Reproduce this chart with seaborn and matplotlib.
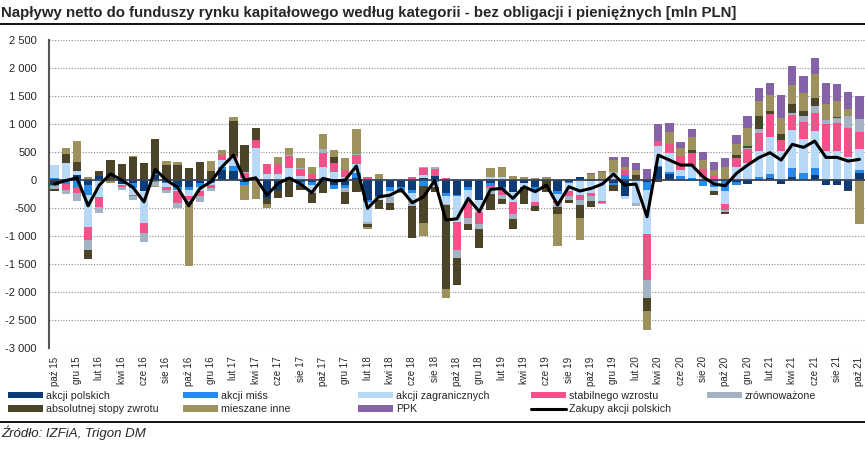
import matplotlib
matplotlib.use("Agg")
import matplotlib.pyplot as plt
import matplotlib.lines as mlines
import numpy as np
import seaborn as sns

sns.set_style("white")
plt.rcParams['font.family'] = ['Liberation Sans', 'DejaVu Sans']

# miesiace paz 2015 - paz 2021
month_abbr = ['sty', 'lut', 'mar', 'kwi', 'maj', 'cze', 'lip', 'sie', 'wrz', 'paź', 'lis', 'gru']
months = []
for k in range(73):
    m = (9 + k) % 12
    y = 15 + (9 + k) // 12
    months.append(f'{month_abbr[m]} {y}')

akcji_polskich = [-80, -20, 90, -90, 70, 0, -70, -60, -200, 90, -30, -130, -130, -60, -30, 180, 170, -40, 0, -315,
                  -170, 20, -30, -40, -30, -90, -80, 30, -360, -280, -130, -130, -180, 40, 70, -230, -270, -130, -360, -60,
                  -130, -210, -50, -130, -20, -190, -30, 50, -20, 0, -50, -290, 0, -30, 230, 110, 20, 10, -20, 0,
                  -20, -30, -70, 10, 40, -70, 60, 0, 90, -95, -90, -170, 120]
akcji_mis = [40, -50, -130, -180, 0, 0, 0, -90, 0, 20, -20, -40, -50, -60, -30, 60, 80, -50, 0, 0,
             0, 30, -60, -50, 40, -70, -60, 100, -40, -40, -70, -50, -60, -110, -40, -60, -20, -50, 0, -40,
             -30, 0, 0, -40, 0, -60, -20, 0, 0, 0, -30, 90, 0, -150, 20, 40, 50, 20, -90, -130,
             -170, -60, 0, 50, 60, 0, 150, 130, 130, 10, 20, 0, 55]
akcji_zagranicznych = [220, 300, 70, -565, -300, 0, -20, -120, -560, 0, -80, -30, -110, -80, -30, 120, 140, 40, 580, 110,
                       100, 170, 80, -80, 200, 150, 60, 150, -340, -40, -100, -20, -120, 50, -80, -130, -450, -210, -210, 50,
                       50, -180, -80, -220, 0, -120, -140, -270, -220, -380, 110, -50, -410, -790, 360, 340, 110, 220, 50, -60,
                       -230, 240, 300, 460, 660, 520, 680, 610, 660, 510, 490, 420, 387]
stabilnego_wzrostu = [-30, -110, -110, -240, -180, 0, -40, -20, -180, -40, -50, -210, -60, -90, -50, 90, 40, 90, 140, 180,
                      190, 210, 110, 110, 250, 160, 120, 170, 50, 0, 0, 0, 50, 120, 120, 30, -510, -280, -210, -50,
                      -110, -210, 0, -80, 0, -40, -100, -90, -40, -30, 0, 90, 0, -820, 90, 160, 250, 230, 140, 70,
                      -110, 150, 250, 315, 420, 195, 270, 290, 310, 475, 500, 510, 300]
zrownowazone = [-50, -70, -140, -180, -110, 0, -40, -60, -160, -60, -60, -90, -20, -100, -50, 0, 0, 20, 0, 0,
                0, 10, 20, -60, 60, 0, -80, 20, -40, 0, -110, 0, -110, 30, 40, -20, -150, -120, -90, -100,
                -60, -90, 0, 0, 0, -80, -60, -90, -90, -20, 40, 0, -45, -315, 0, 0, 0, 0, 0, 0,
                -40, 0, 30, 80, 0, 0, 30, 120, 125, 75, 90, 215, 230]
absolutnej_stopy = [-40, 170, 170, -150, 100, 360, 280, 420, 300, 620, 260, 270, 210, 315, 160, 0, 620, 470, 215, -115,
                    -150, -300, -90, -180, -200, 95, -200, -210, -50, -150, -120, -20, -565, -650, -100, -1500, -480, -110, -340, -280,
                    -100, -190, -300, -80, -190, -110, -60, -230, -107, 0, -120, 0, 90, -240, -40, 0, 0, 60, 0, -80,
                    -30, 60, 20, 220, 60, 107, 165, 85, 150, 0, 20, -20, 0]
mieszane_inne = [0, 110, 370, 50, 0, -60, 0, 10, 0, -30, 80, 60, -1160, 0, 180, 90, 80, -270, -345, -65,
                 130, 140, 190, 120, 270, 130, 220, 440, -40, 100, 0, -20, 0, -230, 0, -160, 0, 0, 0, 170,
                 175, 70, 50, 40, 50, -580, 20, -390, 100, 150, 210, 60, 90, -330, 0, 200, 140, 220, 170, 110,
                 240, 200, 330, 270, 270, 280, 340, 320, 430, 290, 295, 115, -785]
ppk = [0] * 48 + [20, 20, 50, 170, 130, 190, 300, 170, 110, 160, 140, 150,
                  160, 150, 220, 230, 230, 410, 345, 305, 285, 375, 300, 310, 417]
zakupy_akcji_polskich = [-70, -10, 40, -460, -90, 110, 0, -130, -390, 190, 0, -130, -460, -150, -30, 240, 446, 0, 40, -270,
                         -60, 35, -70, -225, 30, -18, 0, 250, -505, -300, -270, -167, -405, -300, -10, -714, -690, -327, -565, -167,
                         -149, -327, -119, -208, -89, -446, -119, -196, -149, -71, 107, -89, -71, -655, 446, 357, 268, 268, 60, -71,
                         -101, 119, 268, 399, 488, 357, 637, 583, 696, 405, 405, 339, 369]

series = [
    ('akcji polskich', akcji_polskich, '#0c3b78'),
    ('akcji miśs', akcji_mis, '#238bec'),
    ('akcji zagranicznych', akcji_zagranicznych, '#b7d8f7'),
    ('stabilnego wzrostu', stabilnego_wzrostu, '#f2518a'),
    ('zrównoważone', zrownowazone, '#a3b3c3'),
    ('absolutnej stopy zwrotu', absolutnej_stopy, '#4b4429'),
    ('mieszane inne', mieszane_inne, '#9d915e'),
    ('PPK', ppk, '#8463a8'),
]

fig = plt.figure(figsize=(8.65, 4.55), dpi=100)
ax = fig.add_axes([49 / 865, 0.235, 816 / 865, 0.912 - 0.235])

x = np.arange(len(months))
pos_bottom = np.zeros(len(months))
neg_bottom = np.zeros(len(months))
handles = {}
for name, vals, col in series:
    v = np.array(vals, dtype=float)
    bottom = np.where(v >= 0, pos_bottom, neg_bottom)
    bars = ax.bar(x, v, bottom=bottom, width=0.74, color=col, linewidth=0, zorder=2)
    handles[name] = bars
    pos_bottom = pos_bottom + np.clip(v, 0, None)
    neg_bottom = neg_bottom + np.clip(v, None, 0)

ax.axhline(0, color='#3c4658', lw=1.3, zorder=2.5)
sns.lineplot(x=x, y=zakupy_akcji_polskich, ax=ax, color='black', lw=2.2, zorder=3, legend=False)
if ax.get_legend() is not None:
    ax.get_legend().remove()

ax.set_ylim(-3000, 2500)
ax.set_xlim(-0.5, len(months) - 0.5)
ax.set_yticks(np.arange(-3000, 2501, 500))
ax.set_yticklabels([f'{v:,}'.replace(',', ' ') for v in range(-3000, 2501, 500)], fontsize=8)
ax.set_xticks(x[::2])
ax.set_xticklabels(months[::2], rotation=90, fontsize=7)
ax.tick_params(axis='both', length=0)
ax.tick_params(axis='y', pad=9)
ax.tick_params(axis='x', pad=6)
ax.yaxis.grid(True, linestyle=(0, (1, 1.5)), color='#8c8c8c', lw=0.8)
ax.set_axisbelow(True)
for s in ['top', 'right', 'bottom']:
    ax.spines[s].set_visible(False)
ax.spines['left'].set_color('#555555')
ax.spines['left'].set_linewidth(1.5)

# legenda: 5 kolumn o stalej szerokosci
line_handle = mlines.Line2D([], [], color='black', lw=2.2)
columns = [
    ['akcji polskich', 'absolutnej stopy zwrotu'],
    ['akcji miśs', 'mieszane inne'],
    ['akcji zagranicznych', 'PPK'],
    ['stabilnego wzrostu', 'Zakupy akcji polskich'],
    ['zrównoważone'],
]
col_x = [8, 183, 358, 531, 707]
for cx, names in zip(col_x, columns):
    hs = [line_handle if n == 'Zakupy akcji polskich' else handles[n] for n in names]
    leg = fig.legend(hs, names, loc='upper left', bbox_to_anchor=(cx / 865, 1 - 391 / 455),
                     frameon=False, fontsize=7.7, handlelength=3.3, handleheight=0.55,
                     handletextpad=0.25, labelspacing=0.3, borderaxespad=0, borderpad=0)

fig.text(0.001, 0.972, 'Napływy netto do funduszy rynku kapitałowego według kategorii - bez obligacji i pieniężnych [mln PLN]',
         fontsize=10.8, fontweight='bold', va='center', ha='left')
fig.add_artist(mlines.Line2D([0, 1], [0.948, 0.948], color='black', lw=1.3, transform=fig.transFigure))
fig.add_artist(mlines.Line2D([0, 1], [0.073, 0.073], color='black', lw=1.3, transform=fig.transFigure))
fig.text(0.001, 0.05, 'Źródło: IZFiA, Trigon DM', fontsize=9.5, style='italic', va='center', ha='left')

fig.savefig('out.png', dpi=100)
